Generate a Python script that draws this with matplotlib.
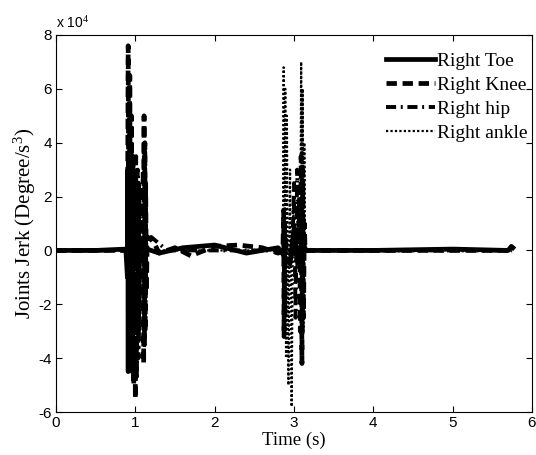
import numpy as np
import matplotlib.pyplot as plt

plt.rcParams['mathtext.fontset'] = 'custom'
plt.rcParams['mathtext.rm'] = 'Liberation Serif'
plt.rcParams['mathtext.it'] = 'Liberation Serif'

SCALE = 1e4  # values below are in units of 10^4 degree/s^3

toe_t = [0.0, 0.5, 0.88, 0.90, 0.905, 0.91, 0.915, 0.92, 0.925, 0.93, 0.935, 0.95,
         1.0, 1.03, 1.035, 1.04, 1.045, 1.05, 1.06, 1.1, 1.3, 1.6, 2.0, 2.4, 2.8,
         2.95, 3.0, 3.05, 3.1, 3.15, 3.3, 4.0, 5.0, 5.7, 5.74, 5.76]
toe_v = [0, 0, 0.05, -1.0, 3.0, -4.5, 3.5, -3.8, 2.5, -2.0, 0.5, 0,
         0, 2.0, -3.0, 2.5, -2.0, 0.5, 0, 0.1, -0.1, 0.1, 0.2, -0.1, 0.1,
         -0.5, 0.8, -0.6, 0.4, 0, 0, 0, 0.05, 0, 0.15, 0.1]

knee_t = [0.0, 0.9, 0.91, 0.92, 0.93, 0.94, 0.95, 0.96, 0.97, 0.98, 0.99, 1.0, 1.01, 1.02,
          1.09, 1.10, 1.105, 1.11, 1.115, 1.12, 1.125, 1.13, 1.14, 1.15, 1.2, 1.25, 1.3,
          1.5, 1.7, 2.0, 2.3, 2.6, 2.8, 2.86, 2.87, 2.875, 2.88, 2.885, 2.89, 2.9,
          3.06, 3.07, 3.08, 3.09, 3.10, 3.11, 3.12, 3.13, 3.14, 3.2, 4.0, 5.0, 5.75]
knee_v = [0, 0, 7.6, -4.0, 6.5, -3.5, 5.0, -4.5, 3.5, -5.0, 2.5, -5.5, 1.0, 0,
          0, 3.0, -4.2, 5.0, -3.5, 4.0, -3.0, 2.5, -1.5, 0.5, 0.4, 0.2, -0.1,
          0.1, -0.2, 0.15, 0.2, 0.1, -0.1, 0, 1.5, -3.2, 1.0, -2.5, 0.5, 0,
          0, 2.0, -3.0, 3.5, -4.2, 3.0, -2.5, 1.0, 0, 0, 0, 0, 0]

hip_t = [0.0, 1.0, 1.01, 1.02, 1.03, 1.04, 1.05, 1.06, 1.2, 1.4, 2.98, 3.0, 3.02, 3.04,
         3.06, 4.0, 5.75]
hip_v = [0, 0, 3.5, -4.8, 3.0, -4.0, 2.0, 0, 0.5, 0, 0, 2.5, -2.5, 3.0,
         0, 0, 0]

ankle_t = [0.0, 2.86, 2.87, 2.88, 2.89, 2.90, 2.91, 2.93, 2.95, 2.97, 2.99, 3.0,
           3.08, 3.09, 3.10, 3.11, 3.12, 3.13, 3.14, 4.0, 5.75]
ankle_v = [0, 0, 6.8, -3.0, 6.0, -4.0, 5.0, -5.0, 3.0, -5.8, 2.0, 0,
           0, 7.0, -2.0, 6.0, -3.0, 4.0, 0, 0, 0]

fig = plt.figure(figsize=(5.36, 4.55), dpi=100)
ax = fig.add_axes([0.1045, 0.0945, 0.888, 0.8286])

ax.plot(toe_t, np.array(toe_v) * SCALE, 'k-', lw=3.4, label='Right Toe')
ax.plot(knee_t, np.array(knee_v) * SCALE, color='k', ls=(0, (2.2, 1.2)), lw=3.4,
        label='Right Knee')
ax.plot(hip_t, np.array(hip_v) * SCALE, color='k', ls=(0, (2.6, 1.2, 0.5, 1.2)), lw=2.8,
        label='Right hip')
ax.plot(ankle_t, np.array(ankle_v) * SCALE, color='k', ls=(0, (1, 1)), lw=1.6,
        label='Right ankle')

ax.set_xlim(0, 6)
ax.set_ylim(-6e4, 8e4)
ax.set_xticks(range(0, 7))
ax.set_yticks(np.arange(-6, 9, 2) * SCALE)
ax.set_yticklabels([str(v) for v in range(-6, 9, 2)], family='Liberation Sans', fontsize=11)
ax.set_xticklabels([str(v) for v in range(0, 7)], family='Liberation Sans', fontsize=11)
ax.tick_params(direction='in', top=True, right=True, length=4, pad=3)
ax.text(0.0, 1.01, r'x 10$^{4}$', transform=ax.transAxes, family='Liberation Sans',
        fontsize=10, va='bottom', ha='left')

ax.set_xlabel('Time (s)', family='Liberation Serif', fontsize=13.5, labelpad=1)
ax.set_ylabel(r'Joints Jerk (Degree/s$^{3}$)', family='Liberation Serif', fontsize=15,
              labelpad=0)

ax.legend(loc='upper right', frameon=False, prop={'family': 'Liberation Serif', 'size': 14},
          handlelength=2.5, handletextpad=0.1, labelspacing=0.33,
          bbox_to_anchor=(1.006, 0.975), borderaxespad=0.0)

fig.savefig('out.png', dpi=100)
